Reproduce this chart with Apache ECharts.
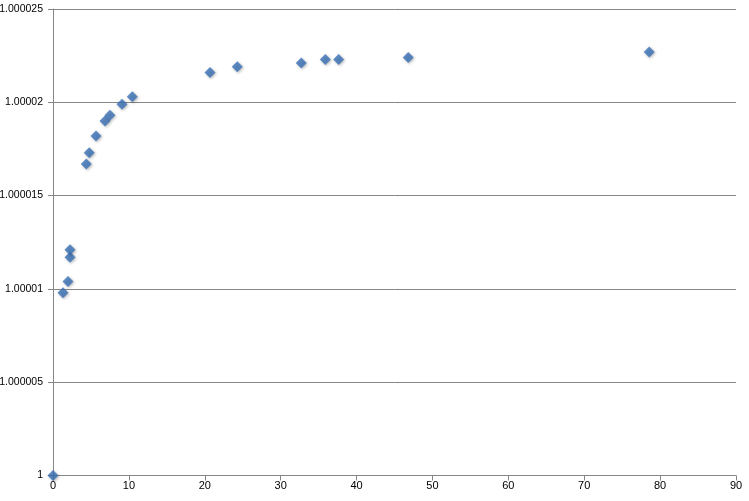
<!DOCTYPE html>
<html>
<head>
<meta charset="utf-8">
<script src="https://cdn.jsdelivr.net/npm/echarts@6/dist/echarts.min.js"></script>
<style>html,body{margin:0;padding:0;background:#fff}#c{width:749px;height:501px}</style>
</head>
<body>
<div id="c"></div>
<script>
var xValues = [0, 1.32, 1.98, 2.24, 2.24, 4.39, 4.78, 5.67, 6.85, 7.5, 9.09, 10.45, 20.69, 24.28, 32.71, 35.88, 37.64, 46.81, 78.56];
var yValues = [1, 1.0000098, 1.0000104, 1.0000117, 1.0000121, 1.0000167, 1.0000173, 1.0000182, 1.000019, 1.0000193, 1.0000199, 1.0000203, 1.0000216, 1.0000219, 1.0000221, 1.0000223, 1.0000223, 1.0000224, 1.0000227];
var yTickLabels = ['1', '1.000005', '1.00001', '1.000015', '1.00002', '1.000025'];
var xTickLabels = ['0', '10', '20', '30', '40', '50', '60', '70', '80', '90'];

var points = xValues.map(function (x, i) { return [x, yValues[i]]; });
var chart = echarts.init(document.getElementById('c'), null, {renderer: 'canvas'});
var axisGray = '#868686';
chart.setOption({
  animation: false,
  grid: {left: 53, right: 13, top: 9, bottom: 25.5, containLabel: false, outerBoundsMode: 'none'},
  xAxis: {
    type: 'value', min: 0, max: 90, interval: 10,
    axisLine: {show: true, lineStyle: {color: axisGray, width: 1}},
    axisTick: {show: true, length: 5, lineStyle: {color: axisGray}},
    splitLine: {show: false},
    axisLabel: {color: '#000', fontFamily: 'Liberation Sans', fontSize: 11, margin: 5,
      formatter: function (v) { var i = Math.round(v / 10); return xTickLabels[i] !== undefined ? xTickLabels[i] : ''; }}
  },
  yAxis: {
    type: 'value', min: 1, max: 1.000025, interval: 0.000005,
    axisLine: {show: true, lineStyle: {color: axisGray, width: 1}},
    axisTick: {show: true, length: 5, lineStyle: {color: axisGray}},
    splitLine: {show: true, lineStyle: {color: axisGray, width: 1}},
    axisLabel: {color: '#000', fontFamily: 'Liberation Sans', fontSize: 10.5, margin: 10,
      formatter: function (v) { var i = Math.round((v - 1) / 0.000005); return yTickLabels[i] !== undefined ? yTickLabels[i] : ''; }}
  },
  series: [{
    type: 'scatter',
    data: points,
    symbol: 'diamond',
    symbolSize: [11, 11],
    itemStyle: {color: '#3A70B6', shadowColor: 'rgba(0,0,0,0.35)', shadowBlur: 3, shadowOffsetX: 1, shadowOffsetY: 1}
  }]
});
</script>
</body>
</html>
